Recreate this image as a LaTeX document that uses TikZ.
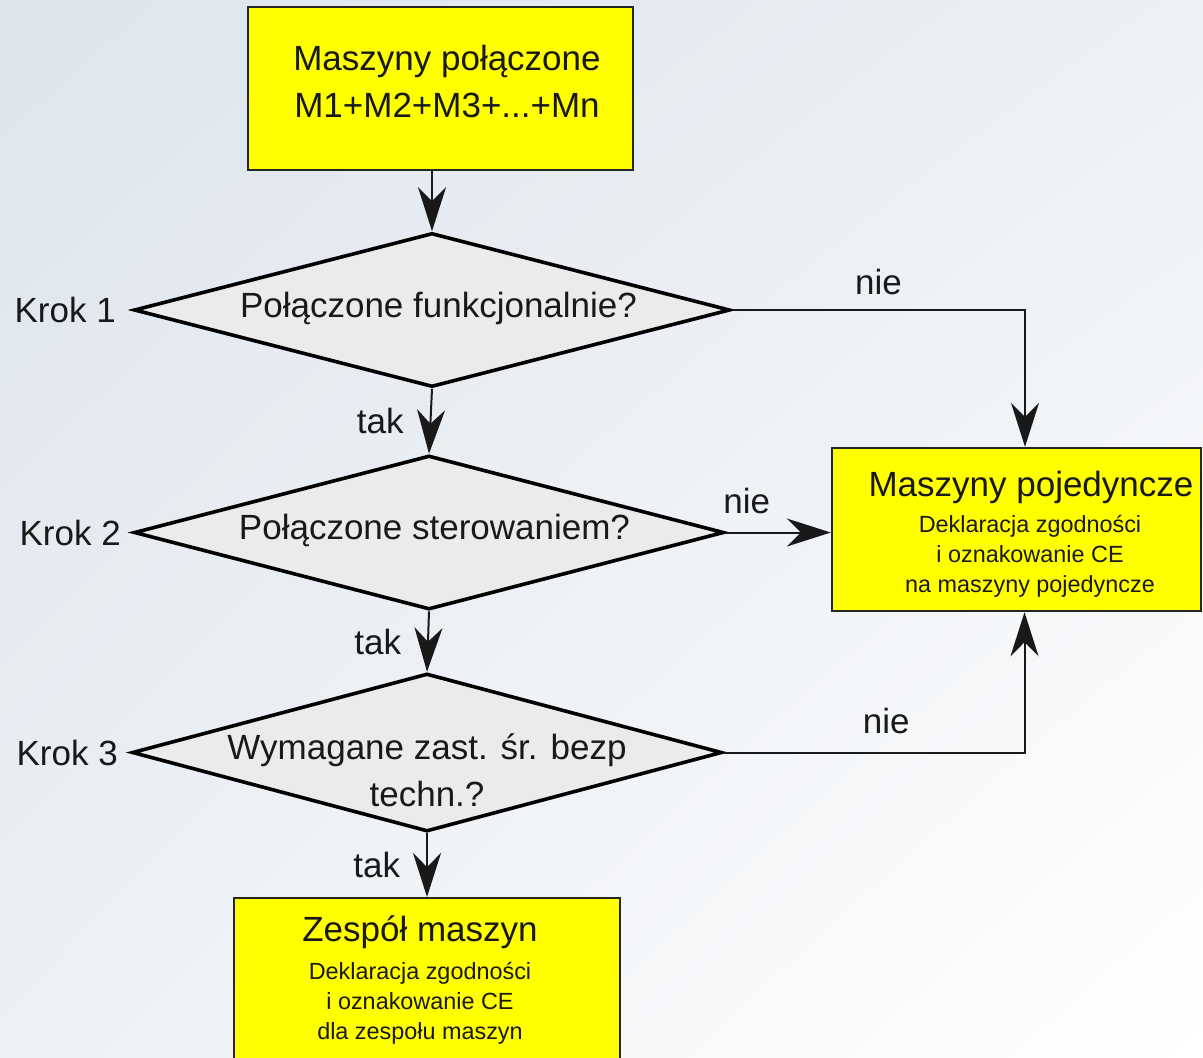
\documentclass[tikz,border=0pt]{standalone}
\usepackage{fontspec}
\setmainfont{Liberation Sans}
\usetikzlibrary{positioning, arrows.meta, shapes.geometric, shadings}
\definecolor{boxyellow}{RGB}{255, 255, 0}
\definecolor{diagray}{RGB}{235, 235, 235}
\definecolor{bgblue}{RGB}{221, 228, 236}
\definecolor{bgmid}{RGB}{236, 240, 244}
\newcommand{\bigfnt}{\fontsize{17.5}{23.5}\selectfont}
\newcommand{\smallfnt}{\fontsize{11.7}{15}\selectfont}

\begin{document}
\begin{tikzpicture}[x=0.5pt, y=-0.5pt,
          ybox/.style={draw=black!85, fill=boxyellow, line width=1.2pt, inner sep=0pt},
          decision/.style={draw=black, fill=diagray, shape=diamond, line width=1.8pt, inner sep=0pt, minimum width=295pt, minimum height=77pt},
          bigtxt/.style={font=\bigfnt, text=black!90, align=center, inner sep=1pt},
          smalltxt/.style={font=\smallfnt, text=black!90, align=center, inner sep=1pt},
          flow/.style={-{Stealth[length=22pt, width=14pt, inset=7pt]}, line width=1pt, black!90}
        ]
          % page and background
          \useasboundingbox (0,0) rectangle (1203,1057);
          \clip (0,0) rectangle (1203,1057);
          \shade[upper left=bgblue, upper right=bgmid, lower left=bgmid, lower right=white] (0,0) rectangle (1203,1057);

          % boxes
          \node[ybox, minimum width=192.5pt, minimum height=81.5pt] (start) at (440.5,88.5) {};
          \node[bigtxt] (starttxt) at (447,81) {Maszyny połączone\\M1+M2+M3+...+Mn};

          \node[ybox, minimum width=184.5pt, minimum height=81.5pt] (single) at (1016.5,529.5) {};
          \node[bigtxt] (singlettl) at (1031,487) {Maszyny pojedyncze};
          \node[smalltxt] (singletxt) at (1030,556) {Deklaracja zgodności\\i oznakowanie CE\\na maszyny pojedyncze};

          \node[ybox, minimum width=193pt, minimum height=100pt, anchor=north] (group) at (427,897) {};
          \node[bigtxt] (groupttl) at (420,932) {Zespół maszyn};
          \node[smalltxt] (grouptxt) at (420,1003) {Deklaracja zgodności\\i oznakowanie CE\\dla zespołu maszyn};

          % decisions
          \node[decision, minimum width=298pt] (d1) at (432,310) {};
          \node[bigtxt] (d1txt) at (438.5,308) {Połączone funkcjonalnie?};
          \node[bigtxt, left=7pt of d1] (k1) {Krok 1};

          \node[decision] (d2) at (429,532.5) {};
          \node[bigtxt] (d2txt) at (434.5,530) {Połączone sterowaniem?};
          \node[bigtxt, left=4.5pt of d2] (k2) {Krok 2};

          \node[decision, minimum height=79pt] (d3) at (427,752.5) {};
          \node[bigtxt] (d3txt) at (427,770) {Wymagane zast. śr. bezp\\techn.?};
          \node[bigtxt, left=5pt of d3] (k3) {Krok 3};

          % connectors
          \draw[flow] (d1.north |- start.south) -- (d1.north);
          \draw[flow] (d1.south) -- (d2.north) node[bigtxt, midway, left=12pt] {tak};
          \draw[flow] (d2.south) -- (d3.north) node[bigtxt, midway, left=12pt] {tak};
          \draw[flow] (d3.south) -- (group.north) node[bigtxt, midway, left=12pt] {tak};
          \draw[flow] (d1.east) -| ([xshift=4.25pt]single.north) node[bigtxt, pos=0.25, above=6pt] {nie};
          \draw[flow] (d2.east) -- (d2.east -| single.west) node[bigtxt, pos=0.2, above=8pt] {nie};
          \draw[flow] (d3.east) -| ([xshift=4pt]single.south) node[bigtxt, pos=0.27, above=8pt] {nie};
        \end{tikzpicture}
\end{document}
